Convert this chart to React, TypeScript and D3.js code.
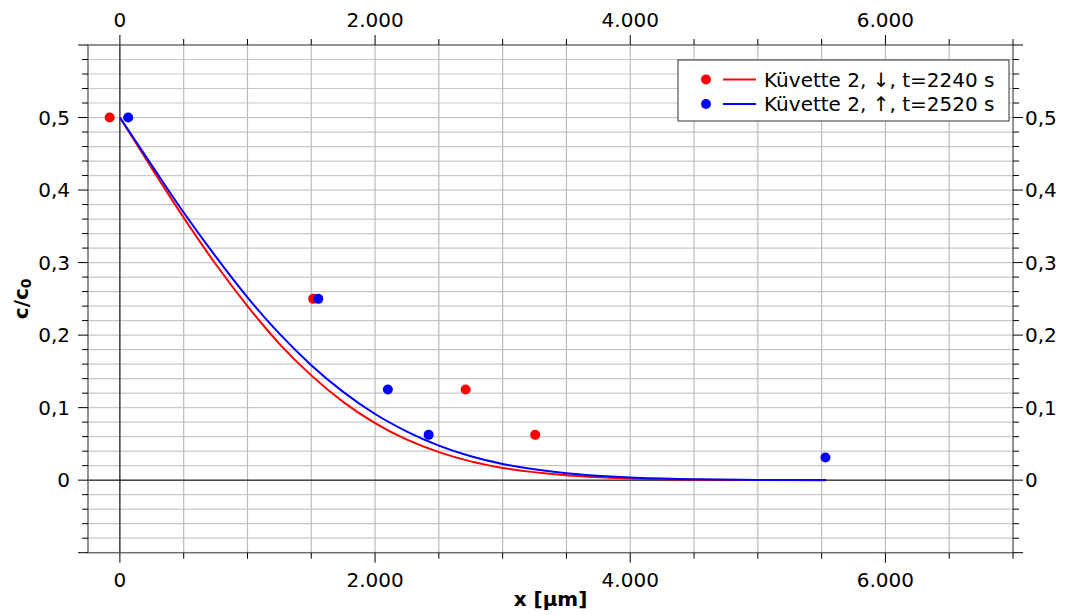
import React from 'react'
import * as d3 from 'd3'

// measured points (x in µm, c/c0)
const redX = [-80, 1515, 2710, 3255]
const redY = [0.5, 0.25, 0.125, 0.0625]
const blueX = [65, 1555, 2100, 2420, 5530]
const blueY = [0.5, 0.25, 0.125, 0.0625, 0.03125]

// fitted curves
const curveX = [0, 250, 500, 750, 1000, 1250, 1500, 1750, 2000, 2250, 2500, 2750, 3000, 3500, 4000, 4500, 5000, 5535]
const redCurve = [0.5, 0.43, 0.362, 0.298, 0.24, 0.188, 0.1445, 0.108, 0.0786, 0.0558, 0.0386, 0.0259, 0.0169, 0.0067, 0.0023, 0.0007, 0.0002, 0]
const blueCurve = [0.5, 0.434, 0.369, 0.3085, 0.252, 0.202, 0.1586, 0.1217, 0.0912, 0.067, 0.0476, 0.0329, 0.0224, 0.0096, 0.0037, 0.0013, 0.0004, 0.0001]

const xTicks = [0, 2000, 4000, 6000]
const yTicks = [0, 0.1, 0.2, 0.3, 0.4, 0.5]

const legendItems = [
  { label: 'Küvette 2, ↓, t=2240 s', color: '#ff0000' },
  { label: 'Küvette 2, ↑, t=2520 s', color: '#0000ff' },
]

const W = 1065
const H = 615
const font = 'DejaVu Sans, sans-serif'

const locale = d3.formatLocale({ decimal: ',', thousands: '.', grouping: [3], currency: ['', '€'] })
const fmtX = locale.format(',d')
const fmtY = (v: number) => (Math.abs(v) < 1e-9 ? '0' : locale.format('.1f')(v))

export default function App() {
  const x = d3.scaleLinear().domain([-250, 7000]).range([88, 1013])
  const y = d3.scaleLinear().domain([-0.1, 0.6]).range([552.7, 45])
  const [x0, x1] = x.range()
  const [y0, y1] = y.range()

  const xMinor = d3.range(0, 7001, 500)
  const yMinor = d3.range(-5, 31).map(i => +(i * 0.02).toFixed(2))

  const line = d3
    .line<number>()
    .x((d, i) => x(curveX[i]))
    .y(d => y(d))
    .curve(d3.curveMonotoneX)

  const isMajorY = (v: number) => Math.abs(v * 10 - Math.round(v * 10)) < 1e-6
  const isMajorX = (v: number) => v % 2000 === 0

  return (
    <svg width={W} height={H} style={{ position: 'absolute', left: 0, top: 0, background: '#fff' }} fontFamily={font}>
      <rect x={0} y={0} width={W} height={H} fill="#fff" />
      {/* grid */}
      {yMinor.filter(v => v > -0.1 && v < 0.6).map(v => (
        <line key={'gy' + v} x1={x0} x2={x1} y1={y(v)} y2={y(v)} stroke="#c8c8c8" strokeWidth={1.2} />
      ))}
      {xMinor.filter(v => v < 7000).map(v => (
        <line key={'gx' + v} x1={x(v)} x2={x(v)} y1={y0} y2={y1} stroke="#bdbdbd" strokeWidth={1.2} />
      ))}
      {/* zero lines */}
      <line x1={x0} x2={x1} y1={y(0)} y2={y(0)} stroke="#000" strokeWidth={1} />
      <line x1={x(0)} x2={x(0)} y1={y0} y2={y1} stroke="#000" strokeWidth={1} />

      {/* frame */}
      <rect x={x0} y={y1} width={x1 - x0} height={y0 - y1} fill="none" stroke="#6e6e6e" strokeWidth={1.5} />

      {/* x ticks bottom / top */}
      {xMinor.map(v => {
        const len = isMajorX(v) ? 10 : 6
        return (
          <g key={'tx' + v} stroke="#000" strokeWidth={1}>
            <line x1={x(v)} x2={x(v)} y1={y0} y2={y0 + len} />
            <line x1={x(v)} x2={x(v)} y1={y1} y2={y1 - len} />
          </g>
        )
      })}
      {/* y ticks left / right */}
      {yMinor.map(v => {
        const len = isMajorY(v) ? 10 : 6
        return (
          <g key={'ty' + v} stroke="#000" strokeWidth={1}>
            <line x1={x0} x2={x0 - len} y1={y(v)} y2={y(v)} />
            <line x1={x1} x2={x1 + len} y1={y(v)} y2={y(v)} />
          </g>
        )
      })}

      {/* tick labels */}
      {xTicks.map(v => (
        <g key={'lx' + v} fontSize={20} fill="#000" textAnchor="middle">
          <text x={x(v)} y={587}>{fmtX(v)}</text>
          <text x={x(v)} y={27}>{fmtX(v)}</text>
        </g>
      ))}
      {yTicks.map(v => (
        <g key={'ly' + v} fontSize={20} fill="#000">
          <text x={70} y={y(v) + 7} textAnchor="end">{fmtY(v)}</text>
          <text x={1025} y={y(v) + 7} textAnchor="start">{fmtY(v)}</text>
        </g>
      ))}

      {/* axis titles */}
      <text x={(x0 + x1) / 2} y={606} textAnchor="middle" fontSize={20} fontWeight="bold">x [µm]</text>
      <text transform={`translate(28,${(y0 + y1) / 2}) rotate(-90)`} textAnchor="middle" fontSize={20} fontWeight="bold">
        c/c<tspan fontSize={14} dy={3}>0</tspan>
      </text>

      {/* curves */}
      <path d={line(redCurve) || ''} fill="none" stroke="#ff0000" strokeWidth={2} />
      <path d={line(blueCurve) || ''} fill="none" stroke="#0000ff" strokeWidth={2} />

      {/* points */}
      {redX.map((v, i) => (
        <circle key={'r' + i} cx={x(v)} cy={y(redY[i])} r={5} fill="#ff0000" />
      ))}
      {blueX.map((v, i) => (
        <circle key={'b' + i} cx={x(v)} cy={y(blueY[i])} r={5} fill="#0000ff" />
      ))}

      {/* legend */}
      <g>
        <rect x={678} y={60} width={331} height={61} fill="#fff" stroke="#333" strokeWidth={1} />
        {legendItems.map((it, i) => (
          <g key={it.label} transform={`translate(0,${79.5 + i * 24.5})`}>
            <circle cx={706} cy={0} r={5} fill={it.color} />
            <line x1={723} x2={756} y1={0} y2={0} stroke={it.color} strokeWidth={2} />
            <text x={764} y={7} fontSize={20} fill="#000">{it.label}</text>
          </g>
        ))}
      </g>
    </svg>
  )
}
